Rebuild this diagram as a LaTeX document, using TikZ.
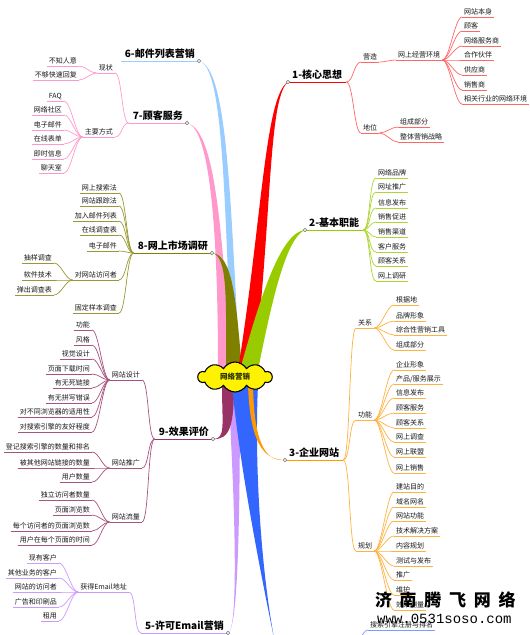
\documentclass[tikz,border=0pt]{standalone}
\usepackage{fontspec}
\newfontfamily\cjk{Noto Sans CJK SC}
\newfontfamily\wmono{Liberation Mono}
\usetikzlibrary{shapes.symbols}
\definecolor{cred}{RGB}{255,0,0}
\definecolor{cgreen}{RGB}{153,204,0}
\definecolor{corange}{RGB}{255,153,0}
\definecolor{cblue}{RGB}{51,102,255}
\definecolor{clav}{RGB}{204,153,255}
\definecolor{clblue}{RGB}{153,204,255}
\definecolor{cpink}{RGB}{255,153,204}
\definecolor{colive}{RGB}{128,128,0}
\definecolor{cmaroon}{RGB}{153,51,102}
\definecolor{ctext}{RGB}{40,50,0}
\colorlet{subc}{black}
\newcommand\leafR[5]{\node[leaf,anchor=south west] (#1) at (#3,#4) {#5};
  \draw[sub] (#1.south west) -- (#1.south east);
  \draw[fan] (#2.south east) to (#1.south west);}
\newcommand\leafL[5]{\node[leaf,anchor=south east] (#1) at (#3,#4) {#5};
  \draw[sub] (#1.south west) -- (#1.south east);
  \draw[fan] (#1.south east) to (#2.south west);}
\begin{document}
\begin{tikzpicture}[x=1pt,y=-1pt,
  mainnode/.style={font=\cjk\bfseries\fontsize{10}{12}\selectfont, inner xsep=4pt, inner ysep=2pt, text=black},
  leaf/.style={font=\cjk\fontsize{7}{8.4}\selectfont, inner xsep=2pt, inner ysep=1.5pt, text=black!90},
  sub/.style={draw=subc, line width=0.7pt},
  fan/.style={sub, out=0, in=180, max distance=7pt},
  mline/.style={line width=1pt},
  dot/.style={circle, draw=black!55, fill=white, inner sep=0pt, minimum size=3.6pt, line width=0.5pt}]
\fill[white] (0,0) rectangle (530,635);
\path[use as bounding box] (0,0) rectangle (530,635);
\clip (0,0) rectangle (530,635);

% tips of main branches
\coordinate (t1) at (288,82);
\coordinate (t2) at (305,230);
\coordinate (t3) at (285,460);
\coordinate (t4) at (276,648);
\coordinate (t5) at (228,633);
\coordinate (t6) at (199,61);
\coordinate (t7) at (187,123);
\coordinate (t8) at (212,253);
\coordinate (t9) at (213,439);

% main branch wedges (top group)
\fill[cpink] (218,370) .. controls (218,250) and (212,128) .. (t7) .. controls (218,130) and (222,250) .. (232,370) -- cycle;
\fill[clblue] (232,370) .. controls (224,200) and (224,66) .. (t6) .. controls (228,68) and (230,200) .. (240,370) -- cycle;
\fill[colive] (226,370) .. controls (226,300) and (228,256) .. (t8) .. controls (233,255) and (236,300) .. (242,370) -- cycle;
\fill[cred] (238,370) .. controls (262,220) and (265,95) .. (t1) .. controls (268,98) and (272,220) .. (254,370) -- cycle;
\fill[cgreen] (240,370) .. controls (262,290) and (282,232) .. (t2) .. controls (286,238) and (272,300) .. (258,370) -- cycle;
% bottom group
\fill[clav] (228,385) .. controls (236,520) and (238,630) .. (t5) .. controls (238,630) and (240,520) .. (240,385) -- cycle;
\fill[cmaroon] (222,385) .. controls (222,425) and (226,439) .. (t9) .. controls (230,440) and (234,425) .. (234,385) -- cycle;
\fill[cblue] (232,385) .. controls (240,470) and (262,580) .. (t4) .. controls (262,580) and (254,470) .. (258,385) -- cycle;
\fill[corange] (248,385) .. controls (250,440) and (262,460) .. (t3) .. controls (264,462) and (254,440) .. (253,385) -- cycle;

% center cloud
\node[cloud, cloud puffs=10, cloud puff arc=120, aspect=2.4, draw=black, line width=1.1pt, fill=yellow,
  minimum width=74pt, minimum height=30pt, inner sep=1pt,
  font=\cjk\bfseries\fontsize{7.5}{8}\selectfont, text=ctext] (c) at (235,377) {网络营销};

% ---------- 1 ----------
\colorlet{subc}{cred!60}
\node[mainnode, anchor=south west] (n1) at (t1) {1-核心思想};
\draw[mline, cred] (n1.south west) -- (n1.south east);
\leafR{r1a}{n1}{361}{62}{营造}
\leafR{r1b}{n1}{361}{133}{地位}
\leafR{r1a1}{r1a}{396}{60}{网上经营环境}
\leafR{r1c1}{r1a1}{462}{17}{网站本身}
\leafR{r1c2}{r1a1}{462}{31}{顾客}
\leafR{r1c3}{r1a1}{462}{46}{网络服务商}
\leafR{r1c4}{r1a1}{462}{60}{合作伙伴}
\leafR{r1c5}{r1a1}{462}{75}{供应商}
\leafR{r1c6}{r1a1}{462}{90}{销售商}
\leafR{r1c7}{r1a1}{462}{104}{相关行业的网络环境}
\leafR{r1d1}{r1b}{398}{127}{组成部分}
\leafR{r1d2}{r1b}{398}{142}{整体营销战略}

% ---------- 2 ----------
\colorlet{subc}{cgreen!80}
\node[mainnode, anchor=south west] (n2) at (t2) {2-基本职能};
\draw[mline, cgreen] (n2.south west) -- (n2.south east);
\leafR{g1}{n2}{376}{178}{网络品牌}
\leafR{g2}{n2}{376}{192}{网址推广}
\leafR{g3}{n2}{376}{208}{信息发布}
\leafR{g4}{n2}{376}{222}{销售促进}
\leafR{g5}{n2}{376}{237}{销售渠道}
\leafR{g6}{n2}{376}{252}{客户服务}
\leafR{g7}{n2}{376}{266}{顾客关系}
\leafR{g8}{n2}{376}{281}{网上调研}

% ---------- 3 ----------
\colorlet{subc}{corange!75}
\node[mainnode, anchor=south west] (n3) at (t3) {3-企业网站};
\draw[mline, corange] (n3.south west) -- (n3.south east);
\leafR{o1}{n3}{356}{328}{关系}
\leafR{o2}{n3}{356}{420}{功能}
\leafR{o3}{n3}{356}{551}{规划}
\leafR{o1a}{o1}{394}{305}{根据地}
\leafR{o1b}{o1}{394}{321}{品牌形象}
\leafR{o1c}{o1}{394}{335}{综合性营销工具}
\leafR{o1d}{o1}{394}{350}{组成部分}
\leafR{o2a}{o2}{394}{370}{企业形象}
\leafR{o2b}{o2}{394}{384}{产品/服务展示}
\leafR{o2c}{o2}{394}{398}{信息发布}
\leafR{o2d}{o2}{394}{413}{顾客服务}
\leafR{o2e}{o2}{394}{428}{顾客关系}
\leafR{o2f}{o2}{394}{442}{网上调查}
\leafR{o2g}{o2}{394}{457}{网上联盟}
\leafR{o2h}{o2}{394}{473}{网上销售}
\leafR{o3a}{o3}{394}{492}{建站目的}
\leafR{o3b}{o3}{394}{507}{域名网名}
\leafR{o3c}{o3}{394}{521}{网站功能}
\leafR{o3d}{o3}{394}{536}{技术解决方案}
\leafR{o3e}{o3}{394}{551}{内容规划}
\leafR{o3f}{o3}{394}{566}{测试与发布}
\leafR{o3g}{o3}{394}{580}{推广}
\leafR{o3h}{o3}{394}{595}{维护}
\leafR{o3i}{o3}{394}{610}{效果测量}

% ---------- 4 (below the picture) ----------
\colorlet{subc}{cblue!65}
\coordinate (n4) at (352,650);
\node[leaf, anchor=south west] (b4a) at (368,630) {搜索引擎注册与排名};
\draw[sub] (b4a.south west) -- (b4a.south east);
\draw[fan] (n4) to (b4a.south west);

% ---------- 5 ----------
\colorlet{subc}{clav}
\node[mainnode, anchor=south east] (n5) at (t5) {5-许可Email营销};
\draw[mline, clav] (n5.south west) -- (n5.south east);
\leafL{p1}{n5}{129}{592}{获得Email地址}
\leafL{p1a}{p1}{59}{563}{现有客户}
\leafL{p1b}{p1}{59}{578}{其他业务的客户}
\leafL{p1c}{p1}{59}{592}{网站的访问者}
\leafL{p1d}{p1}{59}{607}{广告和印刷品}
\leafL{p1e}{p1}{59}{621}{租用}

% ---------- 6 ----------
\node[mainnode, anchor=south east] (n6) at (t6) {6-邮件列表营销};
\draw[mline, clblue] (n6.south west) -- (n6.south east);

% ---------- 7 ----------
\colorlet{subc}{cpink}
\node[mainnode, anchor=south east] (n7) at (t7) {7-顾客服务};
\draw[mline, cpink] (n7.south west) -- (n7.south east);
\leafL{k1}{n7}{115}{73}{现状}
\leafL{k2}{n7}{115}{137}{主要方式}
\leafL{k1a}{k1}{79}{66}{不知人意}
\leafL{k1b}{k1}{79}{80}{不够快速回复}
\leafL{k2a}{k2}{64}{101}{FAQ}
\leafL{k2b}{k2}{64}{115}{网络社区}
\leafL{k2c}{k2}{64}{130}{电子邮件}
\leafL{k2d}{k2}{64}{144}{在线表单}
\leafL{k2e}{k2}{64}{159}{即时信息}
\leafL{k2f}{k2}{64}{173}{聊天室}

% ---------- 8 ----------
\colorlet{subc}{colive!80}
\node[mainnode, anchor=south east] (n8) at (t8) {8-网上市场调研};
\draw[mline, colive] (n8.south west) -- (n8.south east);
\leafL{v1}{n8}{119}{193}{网上搜索法}
\leafL{v2}{n8}{119}{206}{网站跟踪法}
\leafL{v3}{n8}{119}{221}{加入邮件列表}
\leafL{v4}{n8}{119}{235}{在线调查表}
\leafL{v5}{n8}{119}{251}{电子邮件}
\leafL{v6}{n8}{119}{280}{对网站访问者}
\leafL{v7}{n8}{119}{313}{固定样本调查}
\leafL{v6a}{v6}{54}{263}{抽样调查}
\leafL{v6b}{v6}{54}{280}{软件技术}
\leafL{v6c}{v6}{54}{295}{弹出调查表}

% ---------- 9 ----------
\colorlet{subc}{cmaroon!85}
\node[mainnode, anchor=south east] (n9) at (t9) {9-效果评价};
\draw[mline, cmaroon] (n9.south west) -- (n9.south east);
\leafL{m1}{n9}{142}{380}{网站设计}
\leafL{m2}{n9}{142}{468}{网站推广}
\leafL{m3}{n9}{142}{522}{网站流量}
\leafL{m1a}{m1}{92}{330}{功能}
\leafL{m1b}{m1}{92}{345}{风格}
\leafL{m1c}{m1}{92}{359}{视觉设计}
\leafL{m1d}{m1}{92}{374}{页面下载时间}
\leafL{m1e}{m1}{92}{388}{有无死链接}
\leafL{m1f}{m1}{92}{403}{有无拼写错误}
\leafL{m1g}{m1}{92}{417}{对不同浏览器的适用性}
\leafL{m1h}{m1}{92}{432}{对搜索引擎的友好程度}
\leafL{m2a}{m2}{92}{452}{登记搜索引擎的数量和排名}
\leafL{m2b}{m2}{92}{468}{被其他网站链接的数量}
\leafL{m2c}{m2}{92}{482}{用户数量}
\leafL{m3a}{m3}{92}{500}{独立访问者数量}
\leafL{m3b}{m3}{92}{515}{页面浏览数}
\leafL{m3c}{m3}{92}{531}{每个访问者的页面浏览数}
\leafL{m3d}{m3}{92}{545}{用户在每个页面的时间}

% junction dots
\foreach \k in {1,2,3,5,6,7,8,9} \node[dot] (d\k) at (t\k) {};

% watermark
\foreach \ch [count=\i from 0] in {济,南,腾,飞,网,络}
  \node[font=\cjk\bfseries\fontsize{17}{17}\selectfont, inner sep=0pt, text=black] (w\i) at (383.5+\i*24.7,600) {\ch};
\node[font=\wmono\fontsize{14}{14}\selectfont, inner sep=0pt, anchor=west, text=black] (wurl) at (377,619) {www.0531soso.com};
\end{tikzpicture}
\end{document}
